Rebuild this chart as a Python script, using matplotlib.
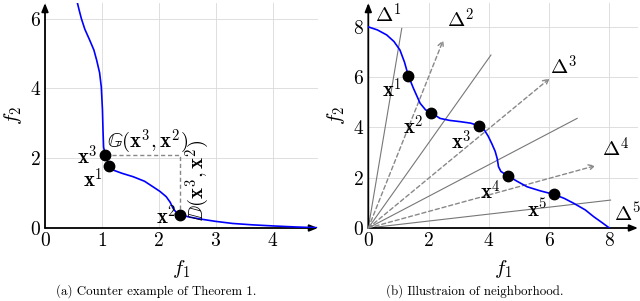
import matplotlib
matplotlib.use("Agg")
import matplotlib.pyplot as plt

plt.rcParams['mathtext.fontset'] = 'cm'
plt.rcParams['font.family'] = ['cmr10', 'DejaVu Serif']
plt.rcParams['axes.formatter.use_mathtext'] = True

# ---- panel (a) data ----
a_curve_x = [0.57, 0.60, 0.64, 0.70, 0.79, 0.86, 0.91, 0.96, 0.99, 1.01, 1.02, 1.03, 1.06,
             1.13, 1.20, 1.35, 1.55, 1.75, 1.90, 2.02, 2.13, 2.20, 2.25, 2.31, 2.37,
             2.55, 2.72, 3.00, 3.30, 3.65, 4.00, 4.40, 4.77]
a_curve_y = [6.45, 6.25, 6.00, 5.70, 5.37, 5.10, 4.80, 4.45, 4.04, 3.40, 2.80, 2.32, 2.09,
             1.78, 1.66, 1.57, 1.47, 1.34, 1.18, 1.05, 0.90, 0.74, 0.57, 0.44, 0.38,
             0.31, 0.26, 0.19, 0.13, 0.09, 0.06, 0.03, 0.01]
a_pts_x = [1.13, 2.37, 1.06]
a_pts_y = [1.78, 0.38, 2.09]
a_pt_labels = [r'$\mathbf{x}^1$', r'$\mathbf{x}^2$', r'$\mathbf{x}^3$']
a_xticks = [0, 1, 2, 3, 4]
a_yticks = [0, 2, 4, 6]

# ---- panel (b) data ----
b_curve_x = [0.00, 0.30, 0.61, 0.85, 1.05, 1.20, 1.33, 1.50, 1.72, 1.90, 2.08, 2.38, 2.70,
             3.05, 3.40, 3.66, 3.85, 3.98, 4.10, 4.21, 4.28, 4.32, 4.40, 4.62, 4.95, 5.27,
             5.70, 6.15, 6.50, 6.82, 7.20, 7.48, 7.75, 8.00]
b_curve_y = [8.00, 7.88, 7.68, 7.42, 7.08, 6.60, 6.05, 5.55, 4.96, 4.70, 4.59, 4.36, 4.28,
             4.23, 4.17, 4.07, 3.90, 3.65, 3.35, 3.05, 2.75, 2.44, 2.25, 2.08, 1.85, 1.64,
             1.48, 1.34, 1.18, 0.98, 0.72, 0.45, 0.22, 0.00]
b_pts_x = [1.33, 2.08, 3.66, 4.62, 6.15]
b_pts_y = [6.05, 4.59, 4.07, 2.08, 1.34]
b_pt_labels = [r'$\mathbf{x}^{%d}$' % i for i in range(1, 6)]
b_pt_label_pos = [(0.78, 5.49), (1.50, 4.03), (3.10, 3.43), (4.05, 1.45), (5.60, 0.72)]
b_solid_ends = [(1.11, 7.94), (4.07, 6.88), (6.93, 4.36), (8.04, 1.11)]
b_dash_ends = [(2.49, 7.48), (6.02, 5.95), (7.54, 2.48)]
b_delta_labels = [r'$\Delta^{%d}$' % i for i in range(1, 6)]
b_delta_pos = [(0.67, 8.47), (3.05, 8.28), (6.49, 6.42), (8.20, 3.17), (8.60, 0.58)]
b_ticks = [0, 2, 4, 6, 8]

TICK_FS = 14
LAB_FS = 15

fig = plt.figure(figsize=(6.4, 3.01), dpi=100)

def setup(ax, xmax, ymax, xt, yt):
    ax.set_xlim(0, xmax)
    ax.set_ylim(0, ymax)
    for s in ['top', 'right', 'left', 'bottom']:
        ax.spines[s].set_visible(False)
    ax.set_xticks(xt)
    ax.set_yticks(yt)
    ax.set_xticklabels([r'$%d$' % v for v in xt], fontsize=TICK_FS)
    ax.set_yticklabels([r'$%d$' % v for v in yt], fontsize=TICK_FS)
    ax.tick_params(length=0, pad=3)
    ax.grid(True, color='#d9d9d9', lw=0.6)
    ax.set_axisbelow(True)
    ax.annotate('', xy=(1.0, 0), xytext=(0, 0), xycoords='axes fraction',
                arrowprops=dict(arrowstyle='-|>,head_length=0.5,head_width=0.2',
                                color='black', lw=1.3, shrinkA=0, shrinkB=0))
    ax.annotate('', xy=(0, 1.0), xytext=(0, 0), xycoords='axes fraction',
                arrowprops=dict(arrowstyle='-|>,head_length=0.5,head_width=0.2',
                                color='black', lw=1.3, shrinkA=0, shrinkB=0))

# Panel (a)
ax1 = fig.add_axes([45/640, 73/301, (318-45)/640, (228-3)/301])
setup(ax1, 4.8, 6.45, a_xticks, a_yticks)
ax1.plot(a_curve_x, a_curve_y, color='#0000ff', lw=1.2, zorder=3)
ax1.plot([a_pts_x[2], a_pts_x[1], a_pts_x[1]], [a_pts_y[2], a_pts_y[2], a_pts_y[1]],
         ls=(0, (3, 2)), color='#888888', lw=1.0, zorder=2)
ax1.plot(a_pts_x, a_pts_y, 'o', color='black', ms=7.5, zorder=4)
ax1.text(0.75, 2.03, a_pt_labels[2], fontsize=LAB_FS, ha='center', va='center')
ax1.text(0.84, 1.37, a_pt_labels[0], fontsize=LAB_FS, ha='center', va='center')
ax1.text(2.14, 0.31, a_pt_labels[1], fontsize=LAB_FS, ha='center', va='center')
ax1.text(1.09, 2.46, r'$\mathbb{G}(\mathbf{x}^3,\mathbf{x}^2)$', fontsize=LAB_FS, ha='left', va='center')
ax1.text(2.68, 1.37, r'$\mathbb{D}(\mathbf{x}^3,\mathbf{x}^2)$', fontsize=LAB_FS, ha='center', va='center',
         rotation=90)
ax1.set_xlabel(r'$f_1$', fontsize=LAB_FS, labelpad=6)
ax1.set_ylabel(r'$f_2$', fontsize=LAB_FS, labelpad=4)
fig.text(156/640, 1 - 291/301, '(a) Counter example of Theorem 1.', fontsize=9.3,
         ha='center', va='center')

# Panel (b)
ax2 = fig.add_axes([368.3/640, 73/301, (638-368.3)/640, (228-3)/301])
setup(ax2, 8.95, 8.95, b_ticks, b_ticks)
for ex, ey in b_solid_ends:
    ax2.plot([0, ex], [0, ey], color='#777777', lw=0.8, zorder=2)
for ex, ey in b_dash_ends:
    ax2.annotate('', xy=(ex, ey), xytext=(0, 0),
                 arrowprops=dict(arrowstyle='->,head_length=0.4,head_width=0.2', color='#888888',
                                 lw=1.0, ls=(0, (3, 2)), shrinkA=0, shrinkB=0))
ax2.plot(b_curve_x, b_curve_y, color='#0000ff', lw=1.2, zorder=3)
ax2.plot(b_pts_x, b_pts_y, 'o', color='black', ms=7.5, zorder=4)
for lab, (px, py) in zip(b_pt_labels, b_pt_label_pos):
    ax2.text(px, py, lab, fontsize=LAB_FS, ha='center', va='center')
for lab, (px, py) in zip(b_delta_labels, b_delta_pos):
    ax2.text(px, py, lab, fontsize=LAB_FS, ha='center', va='center', clip_on=False)
ax2.set_xlabel(r'$f_1$', fontsize=LAB_FS, labelpad=6)
ax2.set_ylabel(r'$f_2$', fontsize=LAB_FS, labelpad=4)
fig.text(475/640, 1 - 291/301, '(b) Illustraion of neighborhood.', fontsize=9.3,
         ha='center', va='center')

fig.savefig('out.png', dpi=100)
